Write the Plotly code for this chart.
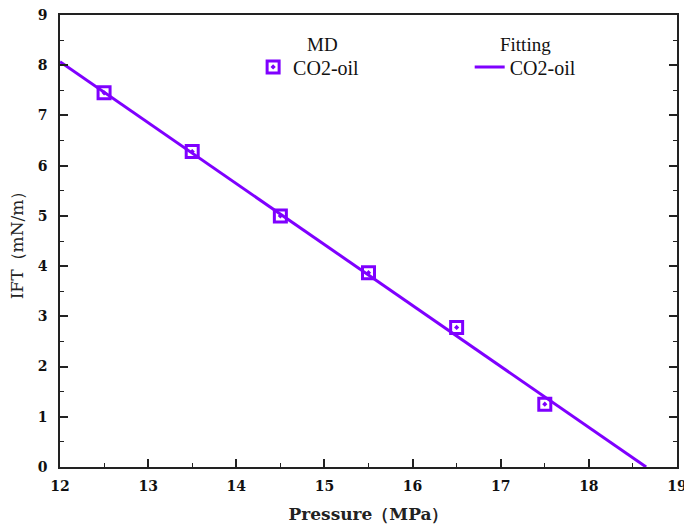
import plotly.graph_objects as go

# Data
pressure_md = [12.5, 13.5, 14.5, 15.5, 16.5, 17.5]
ift_md = [7.45, 6.28, 5.00, 3.87, 2.78, 1.25]

fit_x = [12.0, 18.65]
fit_y = [8.07, 0.0]

x_ticks = [12, 13, 14, 15, 16, 17, 18, 19]
y_ticks = [0, 1, 2, 3, 4, 5, 6, 7, 8, 9]

purple = "#7F00FF"
serif = "Liberation Serif"
tickfont = dict(family="DejaVu Serif", size=14, color="#111")

fig = go.Figure()
fig.add_trace(go.Scatter(
    x=fit_x, y=fit_y, mode="lines", name="CO2-oil",
    line=dict(color=purple, width=3), legend="legend2", cliponaxis=True))
fig.add_trace(go.Scatter(
    x=pressure_md, y=ift_md, mode="markers", name="CO2-oil",
    marker=dict(symbol="square-open-dot", size=12, color=purple,
                line=dict(color=purple, width=3)),
    legend="legend"))

fig.update_layout(
    width=684, height=527,
    margin=dict(l=60, r=7, t=15, b=60, autoexpand=False),
    plot_bgcolor="white", paper_bgcolor="white",
    showlegend=True,
    legend=dict(x=0.313, y=0.885, xanchor="left", yanchor="middle",
                bgcolor="rgba(0,0,0,0)",
                font=dict(family=serif, size=20, color="#111")),
    legend2=dict(x=0.664, y=0.885, xanchor="left", yanchor="middle",
                 bgcolor="rgba(0,0,0,0)",
                 font=dict(family=serif, size=20, color="#111")),
    annotations=[
        dict(text="MD", x=0.426, y=0.935, xref="paper", yref="paper",
             showarrow=False, xanchor="center", yanchor="middle",
             font=dict(family=serif, size=19, color="#111")),
        dict(text="Fitting", x=0.754, y=0.935, xref="paper", yref="paper",
             showarrow=False, xanchor="center", yanchor="middle",
             font=dict(family=serif, size=19, color="#111")),
    ],
)

fig.update_xaxes(
    range=[12, 19], tickvals=x_ticks, ticktext=[f"<b>{v}</b>" for v in x_ticks],
    ticks="inside", ticklen=8, tickwidth=1.5, tickcolor="#222",
    minor=dict(dtick=0.5, tick0=12, ticks="inside", ticklen=4, tickwidth=1.2, tickcolor="#222"),
    showline=True, linecolor="#222", linewidth=1.5, mirror=True,
    showgrid=False, zeroline=False, tickfont=tickfont, ticklabelstandoff=5,
    ticklabeloverflow="allow", automargin=False,
    title=dict(text="<b>Pressure（MPa）</b>", font=dict(family="DejaVu Serif", size=17, color="#222"),
               standoff=16),
)
fig.update_yaxes(
    range=[0, 9], tickvals=y_ticks, ticktext=[f"<b>{v}</b>" for v in y_ticks],
    ticks="inside", ticklen=8, tickwidth=1.5, tickcolor="#222",
    minor=dict(dtick=0.5, tick0=0, ticks="inside", ticklen=4, tickwidth=1.2, tickcolor="#222"),
    showline=True, linecolor="#222", linewidth=1.5, mirror="ticks",
    showgrid=False, zeroline=False, tickfont=tickfont, ticklabelstandoff=8,
    ticklabeloverflow="allow", automargin=False,
    title=dict(text="IFT（mN/m）", font=dict(family="DejaVu Serif", size=17, color="#222"),
               standoff=10),
)

fig.write_html("out.html")
